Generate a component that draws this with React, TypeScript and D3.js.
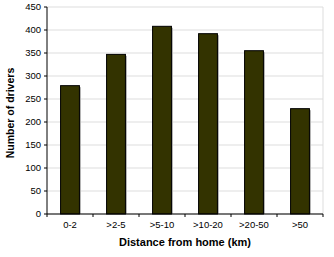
import React from "react";
import * as d3 from "d3";

const categories = ["0-2", ">2-5", ">5-10", ">10-20", ">20-50", ">50"];
const values = [279, 347, 408, 392, 355, 229];
const yTicks = [0, 50, 100, 150, 200, 250, 300, 350, 400, 450];

export default function App() {
  const W = 334, H = 257;
  const left = 47, right = 323, top = 7, bottom = 214;
  const x = d3.scaleBand<string>().domain(categories).range([left, right]).paddingInner(0.59).paddingOuter(0.295);
  const y = d3.scaleLinear().domain([0, 450]).range([bottom, top]);
  const font = "'Liberation Sans', Arial, sans-serif";
  const boundaries = d3.range(categories.length + 1).map((i) => left + (i * (right - left)) / categories.length);
  return (
    <svg width={W} height={H} style={{ position: "absolute", left: 0, top: 0 }}>
      <rect width={W} height={H} fill="#fff" />
      {yTicks.map((t) => (
        <line key={"g" + t} x1={left} x2={right} y1={y(t)} y2={y(t)} stroke="#dddddd" strokeWidth={1} />
      ))}
      <line x1={right} x2={right} y1={top} y2={bottom} stroke="#dddddd" strokeWidth={1} />
      {categories.map((c, i) => (
        <g key={c}>
          <rect x={x(c)! + 1.5} y={y(values[i]) + 1.5} width={x.bandwidth()} height={bottom - y(values[i]) - 1.5} fill="#b0b0b0" />
          <rect x={x(c)!} y={y(values[i])} width={x.bandwidth()} height={bottom - y(values[i])} fill="#333300" stroke="#000" strokeWidth={1} />
        </g>
      ))}
      <line x1={left} x2={left} y1={top} y2={bottom} stroke="#000" />
      <line x1={left} x2={right} y1={bottom} y2={bottom} stroke="#000" />
      {yTicks.map((t) => (
        <g key={"t" + t}>
          <line x1={left - 3} x2={left} y1={y(t)} y2={y(t)} stroke="#000" />
          <text x={left - 6} y={y(t)} dy="0.35em" textAnchor="end" fontFamily={font} fontSize={9.5} fill="#000">{t}</text>
        </g>
      ))}
      {boundaries.map((b, i) => (
        <line key={"b" + i} x1={b} x2={b} y1={bottom} y2={bottom + 3} stroke="#000" />
      ))}
      {categories.map((c) => (
        <text key={"l" + c} x={x(c)! + x.bandwidth() / 2} y={228} textAnchor="middle" fontFamily={font} fontSize={9.5} fill="#000">{c}</text>
      ))}
      <text x={(left + right) / 2} y={246} textAnchor="middle" fontFamily={font} fontSize={11} fontWeight="bold" fill="#000">Distance from home (km)</text>
      <text transform={`translate(14, 113) rotate(-90)`} textAnchor="middle" fontFamily={font} fontSize={10.5} fontWeight="bold" fill="#000">Number of drivers</text>
    </svg>
  );
}
